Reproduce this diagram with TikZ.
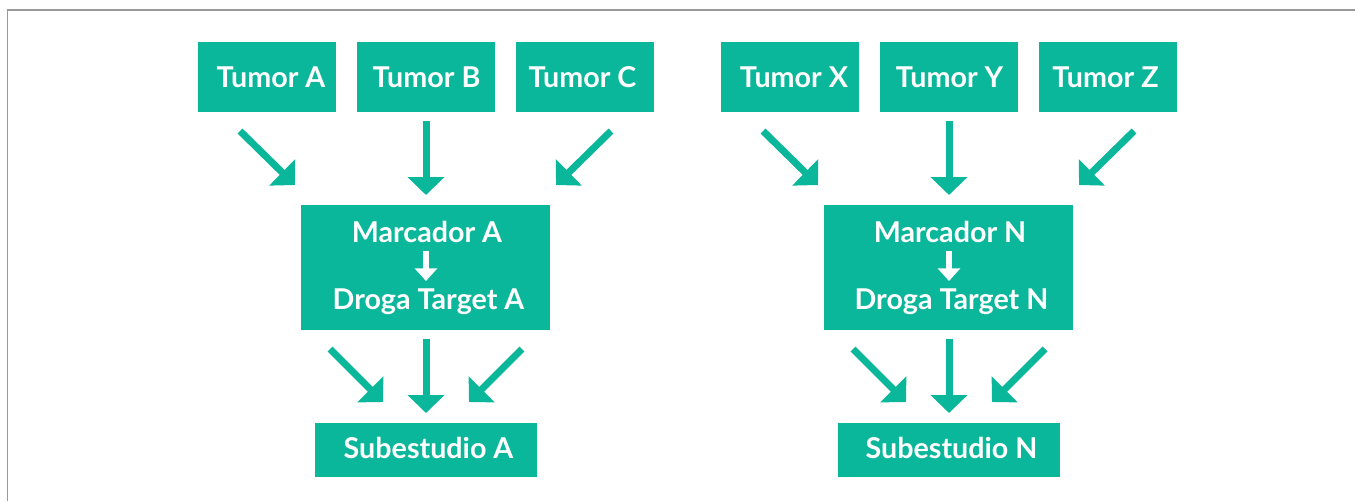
\documentclass[tikz,border=0pt]{standalone}
\usepackage{fontspec}
\setmainfont{Lato}
\usetikzlibrary{arrows.meta}
\definecolor{teal}{HTML}{0BB79A}
\definecolor{frame}{HTML}{999999}
\tikzset{
  tumorbox/.style={fill=teal, minimum width=103.5pt, minimum height=52.5pt, inner sep=0pt},
  bigbox/.style={fill=teal, minimum width=186.75pt, minimum height=93.75pt, inner sep=0pt},
  subbox/.style={fill=teal, minimum width=166.5pt, minimum height=40.5pt, inner sep=0pt},
  lbl/.style={text=white, font=\fontsize{21.5pt}{24pt}\selectfont\bfseries, inner sep=0pt, anchor=base},
  bigarrow/.style={draw=teal, line width=5.25pt, -{Triangle[width=27pt,length=13.5pt]}},
  smallarrow/.style={draw=white, line width=4.5pt, -{Triangle[width=16.5pt,length=9.5pt]}},
  frameline/.style={draw=frame, line width=1.2pt}
}
\begin{document}
\begin{tikzpicture}[x=0.75pt, y=-0.75pt]
\useasboundingbox (0,0) rectangle (1355,501);
% frame
\coordinate (f1) at (7.5,501);
\coordinate (f2) at (7.5,10);
\coordinate (f3) at (1355,10);
\draw[frameline] (f1) -- (f2) -- (f3);

\foreach \g/\dx/\t/\u/\v/\m in {L/0/A/B/C/A, R/523/X/Y/Z/N}{
  \begin{scope}[xshift=\dx*0.75pt]
  % tumor boxes
  \node[tumorbox] (t1\g) at (266.5,77) {};
  \node[lbl] (t1\g t) at (271,87) {Tumor \t};
  \node[tumorbox] (t2\g) at (426,77) {};
  \node[lbl] (t2\g t) at (426.5,87) {Tumor \u};
  \node[tumorbox] (t3\g) at (585,77) {};
  \node[lbl] (t3\g t) at (582.5,87) {Tumor \v};
  % marker box
  \node[bigbox] (m\g) at (425.5,267.5) {};
  \node[lbl] (m1\g) at (427,242) {Marcador \m};
  \node[lbl] (m2\g) at (428.5,309) {Droga Target \m};
  \coordinate (w1\g) at (426,251);
  \coordinate (w2\g) at (426,281);
  \draw[smallarrow] (w1\g) -- (w2\g);
  % sub box
  \node[subbox] (s\g) at (426,450) {};
  \node[lbl] (s\g t) at (428.5,458) {Subestudio \m};
  % arrows top
  \coordinate (a1s\g) at (240,131); \coordinate (a1e\g) at (295,185);
  \coordinate (a2s\g) at (426,121); \coordinate (a2e\g) at (426,195);
  \coordinate (a3s\g) at (611,131); \coordinate (a3e\g) at (556,185);
  \draw[bigarrow] (a1s\g) -- (a1e\g);
  \draw[bigarrow] (a2s\g) -- (a2e\g);
  \draw[bigarrow] (a3s\g) -- (a3e\g);
  % arrows bottom
  \coordinate (b1s\g) at (330,349); \coordinate (b1e\g) at (383,402);
  \coordinate (b2s\g) at (426,339); \coordinate (b2e\g) at (426,413);
  \coordinate (b3s\g) at (522,349); \coordinate (b3e\g) at (469,402);
  \draw[bigarrow] (b1s\g) -- (b1e\g);
  \draw[bigarrow] (b2s\g) -- (b2e\g);
  \draw[bigarrow] (b3s\g) -- (b3e\g);
  \end{scope}
}
\end{tikzpicture}
\end{document}
